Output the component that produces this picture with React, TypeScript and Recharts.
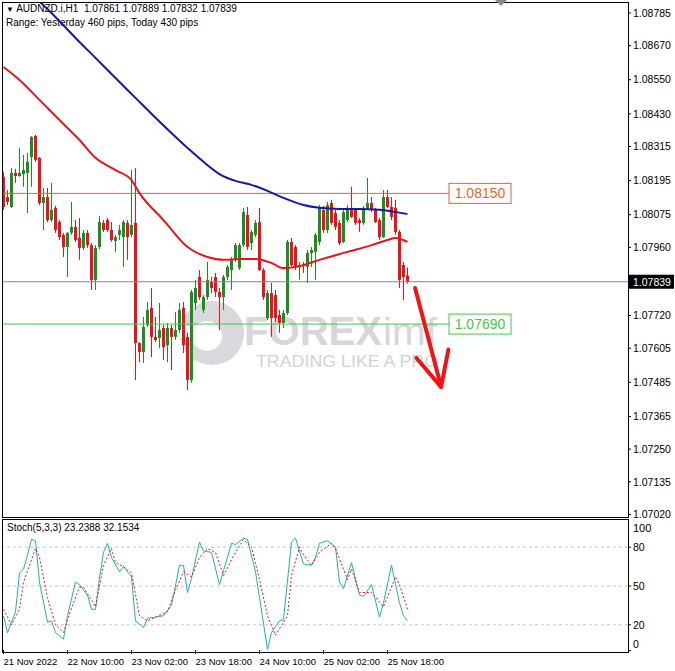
import React from 'react';
import {
  ComposedChart,
  Bar,
  Line,
  XAxis,
  YAxis,
  ReferenceLine,
  ReferenceDot
} from 'recharts';

// AUDNZD H1 candles, 21 Nov 18:00 .. 25 Nov 23:00
const opens = [
  1.08208, 1.08137, 1.08102, 1.08222, 1.08211, 1.08218, 1.08222, 1.08278, 1.08352, 1.08275,
  1.08116, 1.08137, 1.08056, 1.08099, 1.08049, 1.08004, 1.07961, 1.08011, 1.08032, 1.07993,
  1.07958, 1.08011, 1.07968, 1.07845, 1.07961, 1.08046, 1.08056, 1.08021, 1.07982, 1.08004,
  1.07996, 1.08046, 1.08004, 1.08046, 1.07623, 1.07592, 1.07687, 1.07747, 1.07645, 1.07641,
  1.07676, 1.07616, 1.07676, 1.07645, 1.07669, 1.07747, 1.07645, 1.07493, 1.07764, 1.07856,
  1.07740, 1.07785, 1.07838, 1.07856, 1.07803, 1.07785, 1.07856, 1.07880, 1.07916, 1.07887,
  1.07968, 1.08074, 1.07975, 1.08004, 1.08049, 1.07880, 1.07711, 1.07799, 1.07792, 1.07722,
  1.07694, 1.07729, 1.07979, 1.07961, 1.07891, 1.07898, 1.07891, 1.07940, 1.07944, 1.07979,
  1.08092, 1.08021, 1.08116, 1.08081, 1.08046, 1.07979, 1.08056, 1.08099, 1.08092, 1.08056,
  1.08046, 1.08099, 1.08116, 1.08092, 1.08056, 1.07996, 1.08137, 1.08102, 1.08099, 1.08014,
  1.07898, 1.07861
];
const highs = [
  1.08225, 1.08162, 1.08239, 1.08236, 1.08310, 1.08285, 1.08292, 1.08352, 1.08356, 1.08278,
  1.08169, 1.08169, 1.08187, 1.08106, 1.08056, 1.08011, 1.08014, 1.08120, 1.08056, 1.08063,
  1.08021, 1.08021, 1.07975, 1.07968, 1.08070, 1.08056, 1.08063, 1.08049, 1.08004, 1.08039,
  1.08056, 1.08056, 1.08232, 1.08239, 1.07627, 1.07715, 1.07768, 1.07817, 1.07715, 1.07764,
  1.07687, 1.07694, 1.07687, 1.07733, 1.07764, 1.07768, 1.07659, 1.07810, 1.07845, 1.07880,
  1.07792, 1.07909, 1.07856, 1.07870, 1.07817, 1.07863, 1.07898, 1.07926, 1.07975, 1.07975,
  1.08099, 1.08102, 1.08021, 1.08056, 1.08099, 1.07887, 1.07810, 1.07835, 1.07810, 1.07740,
  1.07740, 1.07986, 1.07993, 1.07968, 1.07909, 1.07909, 1.07951, 1.07961, 1.08011, 1.08109,
  1.08106, 1.08120, 1.08127, 1.08092, 1.08056, 1.08092, 1.08109, 1.08173, 1.08099, 1.08063,
  1.08106, 1.08204, 1.08137, 1.08099, 1.08063, 1.08162, 1.08162, 1.08137, 1.08127, 1.08021,
  1.07909, 1.07889
];
const lows = [
  1.08092, 1.08109, 1.08099, 1.08187, 1.08208, 1.08173, 1.08081, 1.08173, 1.08261, 1.08109,
  1.08021, 1.08049, 1.08049, 1.08011, 1.07986, 1.07926, 1.07856, 1.08004, 1.07979, 1.07916,
  1.07951, 1.07958, 1.07810, 1.07810, 1.07954, 1.08014, 1.08014, 1.07979, 1.07944, 1.07986,
  1.07891, 1.07916, 1.07996, 1.07493, 1.07556, 1.07553, 1.07680, 1.07574, 1.07627, 1.07606,
  1.07564, 1.07556, 1.07528, 1.07634, 1.07659, 1.07588, 1.07458, 1.07483, 1.07740, 1.07775,
  1.07729, 1.07775, 1.07799, 1.07785, 1.07669, 1.07740, 1.07845, 1.07810, 1.07909, 1.07880,
  1.07961, 1.07951, 1.07951, 1.07996, 1.07877, 1.07775, 1.07704, 1.07645, 1.07697, 1.07659,
  1.07676, 1.07722, 1.07887, 1.07880, 1.07845, 1.07870, 1.07835, 1.07891, 1.07845, 1.07968,
  1.08011, 1.08011, 1.08039, 1.08021, 1.07968, 1.07975, 1.08049, 1.08063, 1.08039, 1.08014,
  1.08039, 1.08092, 1.08084, 1.08046, 1.07986, 1.07993, 1.08099, 1.08056, 1.08004, 1.07817,
  1.07775, 1.07832
];
const closes = [
  1.08102, 1.08120, 1.08222, 1.08211, 1.08222, 1.08232, 1.08261, 1.08348, 1.08268, 1.08116,
  1.08137, 1.08056, 1.08092, 1.08021, 1.07996, 1.07961, 1.08011, 1.08032, 1.07986, 1.07958,
  1.08011, 1.07968, 1.07845, 1.07958, 1.08049, 1.08021, 1.08021, 1.07986, 1.07996, 1.08021,
  1.08049, 1.07996, 1.08039, 1.07623, 1.07592, 1.07680, 1.07740, 1.07645, 1.07634, 1.07669,
  1.07609, 1.07676, 1.07645, 1.07669, 1.07740, 1.07616, 1.07493, 1.07803, 1.07817, 1.07785,
  1.07785, 1.07845, 1.07817, 1.07803, 1.07785, 1.07856, 1.07891, 1.07916, 1.07968, 1.07968,
  1.08084, 1.07961, 1.08014, 1.08046, 1.07880, 1.07785, 1.07799, 1.07711, 1.07711, 1.07694,
  1.07729, 1.07979, 1.07898, 1.07891, 1.07898, 1.07894, 1.07940, 1.07951, 1.08004, 1.08099,
  1.08021, 1.08109, 1.08046, 1.08032, 1.07975, 1.08084, 1.08099, 1.08067, 1.08046, 1.08046,
  1.08099, 1.08116, 1.08092, 1.08049, 1.07996, 1.08137, 1.08102, 1.08067, 1.08014, 1.07845,
  1.07856, 1.07839
];

// moving averages: [bar index, price]
const maRedPts: [number, number][] = [
  [0, 1.08595], [4, 1.08549], [9, 1.08479], [14, 1.08408], [19, 1.08338], [23, 1.08275],
  [28, 1.08232], [32, 1.08197], [34, 1.08151], [40, 1.08056], [46, 1.07961], [51, 1.07926],
  [55, 1.07916], [59, 1.07919], [63, 1.07919], [67, 1.07905], [70, 1.07887], [74, 1.07894],
  [79, 1.07916], [86, 1.07944], [92, 1.07968], [96, 1.07986], [98, 1.07993], [101, 1.07979]
];
const maBluePts: [number, number][] = [
  [8, 1.08838], [12, 1.08785], [18, 1.08697], [23, 1.08627], [28, 1.08556], [33, 1.08486],
  [38, 1.08416], [46, 1.0831], [50, 1.08261], [54, 1.08218], [58, 1.08194], [62, 1.0818],
  [66, 1.08159], [70, 1.08134], [75, 1.08109], [79, 1.08099], [84, 1.08095], [89, 1.08095],
  [94, 1.08092], [98, 1.08084], [101, 1.08077]
];

// Stoch(5,3,3): [bar index, value]
const stochMainPts: [number, number][] = [
  [0, 27], [1, 14], [3, 30], [4, 60], [5, 63], [6, 74], [7, 86], [8, 85], [9, 53], [11, 22],
  [12, 23], [13, 14], [15, 9], [16, 27], [18, 53], [19, 51], [21, 43], [22, 32], [23, 32],
  [24, 56], [25, 76], [26, 83], [27, 72], [29, 61], [30, 65], [32, 57], [33, 23], [35, 18],
  [36, 25], [38, 26], [40, 27], [42, 35], [44, 66], [45, 66], [46, 45], [47, 56], [49, 84],
  [50, 77], [52, 76], [54, 51], [57, 83], [58, 82], [60, 87], [61, 86], [63, 61], [66, 1],
  [67, 14], [69, 23], [70, 24], [72, 84], [73, 87], [75, 67], [77, 66], [78, 72], [79, 83],
  [81, 85], [83, 80], [84, 53], [85, 48], [87, 68], [89, 43], [90, 42], [92, 51], [94, 26],
  [95, 37], [97, 66], [99, 37], [100, 27], [101, 23.2388]
];
const stochSignalPts: [number, number][] = [
  [0, 32], [2, 20], [4, 32], [5, 53], [8, 79], [9, 72], [11, 41], [13, 20], [15, 14], [17, 33],
  [19, 49], [20, 49], [23, 34], [25, 66], [27, 79], [28, 68], [30, 65], [32, 60], [34, 27],
  [36, 23], [38, 26], [41, 30], [43, 47], [45, 61], [47, 57], [49, 72], [51, 79], [53, 76],
  [55, 58], [58, 76], [60, 86], [62, 80], [64, 55], [66, 27], [68, 12], [71, 27], [72, 58],
  [74, 80], [75, 74], [77, 66], [79, 76], [82, 83], [83, 79], [86, 55], [87, 63], [89, 45],
  [92, 45], [95, 34], [98, 57], [99, 51], [101, 32.1534]
];

const priceTicks = [
  1.08785, 1.0867, 1.0855, 1.0843, 1.08315, 1.08195, 1.08075, 1.0796,
  1.0772, 1.07605, 1.07485, 1.07365, 1.0725, 1.07135, 1.0702
];
const stochTicks = [0, 20, 50, 80];
const stochTop = 100;
const stochLevels = [20, 50, 80];
const timeTickIdx = [0, 16, 32, 48, 64, 80, 96];
const timeLabels = [
  '21 Nov 2022', '22 Nov 10:00', '23 Nov 02:00', '23 Nov 18:00',
  '24 Nov 10:00', '25 Nov 02:00', '25 Nov 18:00'
];

const resistance = 1.0815;
const support = 1.0769;
const lastPrice = 1.07839;

const X_DOMAIN: [number, number] = [-0.125, 156.125];
const P_DOMAIN: [number, number] = [1.07011, 1.0882];

const GREEN = '#1f8c1f';
const RED = '#e8141a';
const ORANGE = '#e2672e';
const LIME = '#4cc24c';
const FONT = '"Liberation Sans", Arial, sans-serif';

const lookup = (pts: [number, number][]) => {
  const m = new Map(pts);
  return (i: number) => (m.has(i) ? (m.get(i) as number) : null);
};
const red = lookup(maRedPts);
const blue = lookup(maBluePts);
const stK = lookup(stochMainPts);
const stD = lookup(stochSignalPts);

const priceRows = opens.map((o, i) => ({
  i,
  o,
  h: highs[i],
  l: lows[i],
  c: closes[i],
  range: [lows[i], highs[i]],
  maRed: red(i),
  maBlue: blue(i)
}));

const stochRows = opens.map((_, i) => ({ i, k: stK(i), d: stD(i) }));

const Candle = (props: any) => {
  const { x, y, width, height, payload } = props;
  if (x == null || y == null) return null;
  const { o, h, l, c } = payload;
  const color = c >= o ? GREEN : RED;
  const top = Math.min(y, y + height);
  const span = Math.abs(height);
  const yOf = (p: number) => (h === l ? top : top + ((h - p) / (h - l)) * span);
  const cx = Math.floor(x + width / 2) + 0.5;
  const bTop = yOf(Math.max(o, c));
  const bBot = yOf(Math.min(o, c));
  return (
    <g>
      <line x1={cx} x2={cx} y1={top} y2={top + span} stroke={color} strokeWidth={1} />
      <rect x={cx - 1.5} y={bTop} width={3} height={Math.max(1, bBot - bTop)} fill={color} />
    </g>
  );
};

const PriceTick = (props: any) => {
  const { x, y, payload } = props;
  const v = payload.value;
  if (Math.abs(v - lastPrice) < 1e-7) {
    return (
      <g>
        <rect x={x - 4} y={y - 7} width={45} height={14} fill="#000" />
        <text x={x} y={y} dy="0.36em" fill="#fff" fontSize={10.5} fontFamily={FONT}>
          {v.toFixed(5)}
        </text>
      </g>
    );
  }
  return (
    <text x={x} y={y} dy="0.36em" fill="#000" fontSize={10.5} fontFamily={FONT}>
      {v.toFixed(5)}
    </text>
  );
};

// MT4 keeps the 0 label inside the sub-window
const StochTick = (props: any) => {
  const { x, y, payload } = props;
  const v = payload.value;
  const shift = v === 0 ? -6 : 0;
  return (
    <text x={x} y={y + shift} dy="0.36em" fill="#000" fontSize={10.5} fontFamily={FONT}>
      {v}
    </text>
  );
};

const TimeTick = (props: any) => {
  const { x, y, payload } = props;
  const k = timeTickIdx.indexOf(payload.value);
  return (
    <g>
      <line x1={x} x2={x} y1={y - 2} y2={y + 2} stroke="#000" />
      <text x={x} y={y + 13} fill="#000" fontSize={9.5} fontFamily={FONT} textAnchor="start">
        {timeLabels[k]}
      </text>
    </g>
  );
};

const LevelBox = (color: string, text: string) => (props: any) => {
  const { cx, cy } = props;
  return (
    <g>
      <rect x={cx - 31} y={cy - 10} width={62} height={20} fill="#fff" stroke={color} strokeWidth={1} />
      <text x={cx} y={cy} dy="0.36em" textAnchor="middle" fill={color} fontSize={14} fontFamily={FONT}>
        {text}
      </text>
    </g>
  );
};

const Arrow = (props: any) => {
  const { x1, y1, x2, y2 } = props;
  if (x1 == null) return null;
  const ang = Math.atan2(y1 - y2, x1 - x2);
  const len = 38;
  const sp = 0.45;
  return (
    <g stroke="#f01414" strokeWidth={4} strokeLinecap="round" fill="none">
      <line x1={x1} y1={y1} x2={x2} y2={y2} />
      <line x1={x2} y1={y2} x2={x2 + len * Math.cos(ang - sp)} y2={y2 + len * Math.sin(ang - sp)} />
      <line x1={x2} y1={y2} x2={x2 + len * Math.cos(ang + sp)} y2={y2 + len * Math.sin(ang + sp)} />
    </g>
  );
};

const Watermark = () => (
  <svg width={675} height={520} style={{ position: 'absolute', left: 0, top: 0 }}>
    <circle cx={212} cy={333} r={32} fill="#d8d8dd" />
    <circle cx={207} cy={336} r={15} fill="#fff" />
    <rect x={176} y={326} width={32} height={12} fill="#fff" />
    <text x={244} y={345} fill="#d6d6db" fontSize={40} fontWeight="bold" fontFamily={FONT} textLength={138} lengthAdjust="spacingAndGlyphs">
      FOREX
    </text>
    <text x={383} y={345} fill="#d6d6db" fontSize={38} fontFamily={FONT} textLength={54} lengthAdjust="spacingAndGlyphs">
      imf
    </text>
    <text x={256} y={367} fill="#d2d2d8" fontSize={17} fontFamily={FONT} textLength={182} lengthAdjust="spacingAndGlyphs">
      TRADING LIKE A PRO
    </text>
  </svg>
);

export default function App() {
  return (
    <div style={{ position: 'absolute', left: 0, top: 0, width: 675, height: 671, background: '#fff', fontFamily: FONT }}>
      <Watermark />
      <div style={{ position: 'absolute', left: 6, top: 3, fontSize: 10, lineHeight: '12px', color: '#000', whiteSpace: 'pre' }}>
        <span style={{ fontSize: 8 }}>▼</span> AUDNZD.i,H1  1.07861 1.07889 1.07832 1.07839
      </div>
      <div style={{ position: 'absolute', left: 6, top: 17, fontSize: 10, lineHeight: '12px', color: '#000', whiteSpace: 'pre' }}>
        Range: Yesterday 460 pips, Today 430 pips
      </div>

      <div style={{ position: 'absolute', left: 0, top: 0 }}>
        <ComposedChart width={675} height={520} data={priceRows} margin={{ top: 3, right: 0, left: 3, bottom: 3 }}>
          <XAxis type="number" dataKey="i" domain={X_DOMAIN} allowDataOverflow hide />
          <YAxis
            orientation="right"
            width={47}
            domain={P_DOMAIN}
            allowDataOverflow
            ticks={[...priceTicks, lastPrice]}
            interval={0}
            tick={<PriceTick />}
            tickSize={3}
            tickMargin={2}
            tickLine={{ stroke: '#000' }}
            axisLine={false}
          />
          <ReferenceLine y={lastPrice} stroke="#7a8896" strokeWidth={1} />
          <ReferenceLine
            segment={[{ x: -0.125, y: resistance }, { x: 111.4, y: resistance }]}
            stroke={ORANGE}
            strokeWidth={1}
          />
          <ReferenceLine
            segment={[{ x: -0.125, y: support }, { x: 111.4, y: support }]}
            stroke={LIME}
            strokeWidth={1}
          />
          <Bar dataKey="range" barSize={3} shape={<Candle />} isAnimationActive={false} />
          <Line type="monotone" dataKey="maRed" stroke="#e3161c" strokeWidth={2} dot={false} activeDot={false} connectNulls isAnimationActive={false} />
          <Line type="monotone" dataKey="maBlue" stroke="#1616a8" strokeWidth={2} dot={false} activeDot={false} connectNulls isAnimationActive={false} />
          <ReferenceDot x={119.125} y={resistance} r={0} ifOverflow="visible" shape={LevelBox(ORANGE, '1.08150')} />
          <ReferenceDot x={119.125} y={support} r={0} ifOverflow="visible" shape={LevelBox(LIME, '1.07690')} />
          <ReferenceLine
            segment={[{ x: 102.9, y: 1.07817 }, { x: 109.4, y: 1.07469 }]}
            shape={Arrow}
            ifOverflow="visible"
          />
        </ComposedChart>
      </div>

      <div style={{ position: 'absolute', left: 0, top: 519 }}>
        <ComposedChart width={675} height={152} data={stochRows} margin={{ top: 1, right: 0, left: 3, bottom: 0 }}>
          <XAxis
            type="number"
            dataKey="i"
            domain={X_DOMAIN}
            allowDataOverflow
            ticks={timeTickIdx}
            interval={0}
            tick={<TimeTick />}
            tickLine={false}
            tickSize={0}
            tickMargin={0}
            axisLine={false}
            height={19}
          />
          <YAxis
            orientation="right"
            width={47}
            domain={[-1, 101]}
            allowDataOverflow
            ticks={stochTicks}
            interval={0}
            tick={<StochTick />}
            tickSize={3}
            tickMargin={2}
            tickLine={{ stroke: '#000' }}
            axisLine={false}
          />
          {stochLevels.map((lv) => (
            <ReferenceLine key={lv} y={lv} stroke="#c4c4c4" strokeDasharray="3 3" />
          ))}
          <Line type="linear" dataKey="k" stroke="#20b2aa" strokeWidth={1} dot={false} activeDot={false} connectNulls isAnimationActive={false} />
          <Line type="linear" dataKey="d" stroke="#f01414" strokeWidth={1} strokeDasharray="2 2" dot={false} activeDot={false} connectNulls isAnimationActive={false} />
        </ComposedChart>
      </div>

      <div style={{ position: 'absolute', left: 7, top: 522, fontSize: 10, lineHeight: '12px', color: '#000', whiteSpace: 'pre' }}>
        Stoch(5,3,3) 23.2388 32.1534
      </div>

      <svg width={675} height={671} style={{ position: 'absolute', left: 0, top: 0, pointerEvents: 'none' }}>
        <rect x={2.5} y={2.5} width={626} height={515} fill="none" stroke="#000" />
        <rect x={2.5} y={519.5} width={626} height={133} fill="none" stroke="#000" />
        <polygon points="495,0 507,0 501,6" fill="#8a8a8a" />
        <text x={633} y={532} fill="#000" fontSize={11} fontFamily={FONT}>
          {String(stochTop)}
        </text>
      </svg>
    </div>
  );
}
